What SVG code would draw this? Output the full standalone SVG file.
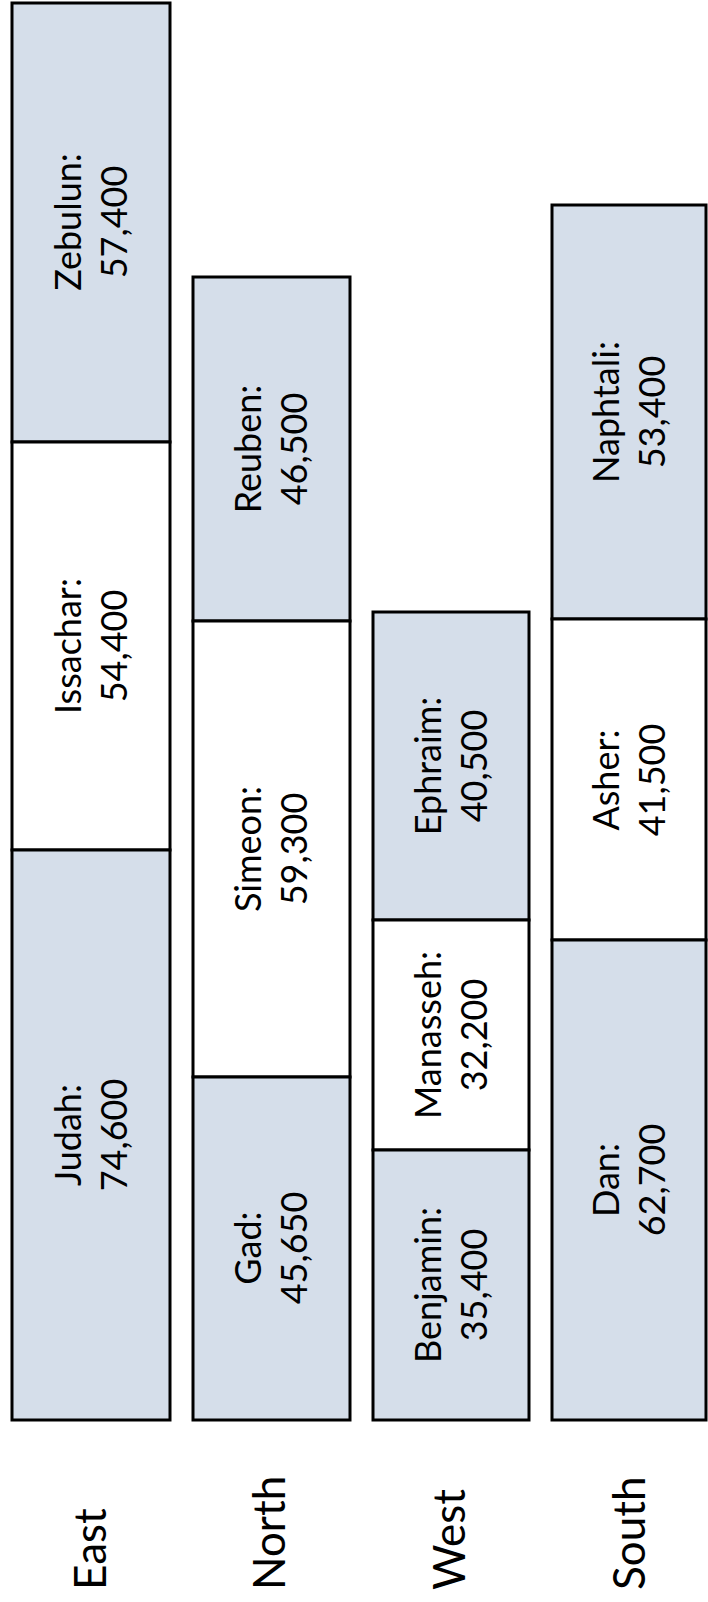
<svg xmlns="http://www.w3.org/2000/svg" width="708" height="1602" viewBox="0 0 708 1602">
<style>
.b{fill:#D5DEEA;stroke:#000;stroke-width:3}
.w{fill:#FFFFFF;stroke:#000;stroke-width:3}
text{font-family:Lato,"Open Sans","Liberation Sans",sans-serif;fill:#000}
.t{font-size:36px;text-anchor:middle}
.d{font-size:44px;text-anchor:start}
</style>
<rect width="708" height="1602" fill="#fff"/>
<g id="east">
<g id="zebulun"><rect class="b" x="12" y="3" width="158" height="439"/><text class="t" transform="rotate(-90 81 222)" x="81" y="222">Zebulun:</text><text class="t" transform="rotate(-90 127 222)" x="127" y="222">57,400</text></g>
<g id="issachar"><rect class="w" x="12" y="442" width="158" height="408"/><text class="t" transform="rotate(-90 81 646)" x="81" y="646">Issachar:</text><text class="t" transform="rotate(-90 127 646)" x="127" y="646">54,400</text></g>
<g id="judah"><rect class="b" x="12" y="850" width="158" height="570"/><text class="t" transform="rotate(-90 81 1135)" x="81" y="1135">Judah:</text><text class="t" transform="rotate(-90 127 1135)" x="127" y="1135">74,600</text></g>
</g>
<g id="north">
<g id="reuben"><rect class="b" x="193" y="277" width="157" height="344"/><text class="t" transform="rotate(-90 261 449)" x="261" y="449">Reuben:</text><text class="t" transform="rotate(-90 307 449)" x="307" y="449">46,500</text></g>
<g id="simeon"><rect class="w" x="193" y="621" width="157" height="456"/><text class="t" transform="rotate(-90 261 849)" x="261" y="849">Simeon:</text><text class="t" transform="rotate(-90 307 849)" x="307" y="849">59,300</text></g>
<g id="gad"><rect class="b" x="193" y="1077" width="157" height="343"/><text class="t" transform="rotate(-90 261 1248)" x="261" y="1248">Gad:</text><text class="t" transform="rotate(-90 307 1248)" x="307" y="1248">45,650</text></g>
</g>
<g id="west">
<g id="ephraim"><rect class="b" x="373" y="612" width="156" height="308"/><text class="t" transform="rotate(-90 441 766)" x="441" y="766">Ephraim:</text><text class="t" transform="rotate(-90 487 766)" x="487" y="766">40,500</text></g>
<g id="manasseh"><rect class="w" x="373" y="920" width="156" height="230"/><text class="t" transform="rotate(-90 441 1035)" x="441" y="1035">Manasseh:</text><text class="t" transform="rotate(-90 487 1035)" x="487" y="1035">32,200</text></g>
<g id="benjamin"><rect class="b" x="373" y="1150" width="156" height="270"/><text class="t" transform="rotate(-90 441 1285)" x="441" y="1285">Benjamin:</text><text class="t" transform="rotate(-90 487 1285)" x="487" y="1285">35,400</text></g>
</g>
<g id="south">
<g id="naphtali"><rect class="b" x="552" y="205" width="154" height="414"/><text class="t" transform="rotate(-90 619 412)" x="619" y="412">Naphtali:</text><text class="t" transform="rotate(-90 665 412)" x="665" y="412">53,400</text></g>
<g id="asher"><rect class="w" x="552" y="619" width="154" height="321"/><text class="t" transform="rotate(-90 619 780)" x="619" y="780">Asher:</text><text class="t" transform="rotate(-90 665 780)" x="665" y="780">41,500</text></g>
<g id="dan"><rect class="b" x="552" y="940" width="154" height="480"/><text class="t" transform="rotate(-90 619 1180)" x="619" y="1180">Dan:</text><text class="t" transform="rotate(-90 665 1180)" x="665" y="1180">62,700</text></g>
</g>
<g id="labels">
<text class="d" transform="rotate(-90 106 1590)" x="106" y="1590">East</text>
<text class="d" transform="rotate(-90 285 1590)" x="285" y="1590">North</text>
<text class="d" transform="rotate(-90 465 1590)" x="465" y="1590">West</text>
<text class="d" transform="rotate(-90 645 1590)" x="645" y="1590">South</text>
</g>
<g id="connectors"/>
</svg>
